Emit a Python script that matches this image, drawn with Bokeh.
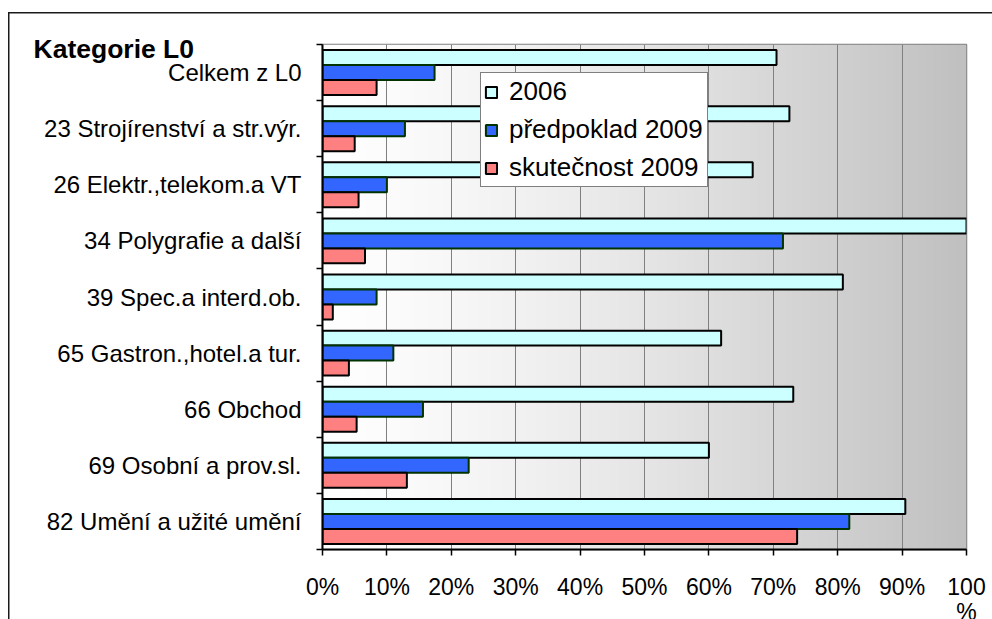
import numpy as np
from bokeh.plotting import figure
from bokeh.models import Range1d, FixedTicker, Legend, LegendItem, Label
from bokeh.embed import file_html
from bokeh.resources import INLINE

# ---- data ----
categories = ["Celkem z L0", "23 Strojírenství a str.výr.", "26 Elektr.,telekom.a VT",
              "34 Polygrafie a další", "39 Spec.a interd.ob.", "65 Gastron.,hotel.a tur.",
              "66 Obchod", "69 Osobní a prov.sl.", "82 Umění a užité umění"]
series_names = ["2006", "předpoklad 2009", "skutečnost 2009"]
v2006 = [70.5, 72.5, 66.8, 100.0, 80.8, 61.9, 73.1, 60.0, 90.5]
pred2009 = [17.4, 12.8, 10.0, 71.5, 8.4, 11.0, 15.6, 22.7, 81.8]
skut2009 = [8.4, 5.0, 5.6, 6.6, 1.6, 4.1, 5.3, 13.1, 73.7]
x_ticks = [0, 10, 20, 30, 40, 50, 60, 70, 80, 90, 100]
x_tick_labels = ["0%", "10%", "20%", "30%", "40%", "50%", "60%", "70%", "80%", "90%", "100"]
x_last_suffix = "%"
title_text = "Kategorie L0"

FONT = "Liberation Sans"
n = len(categories)
centers = [n - i - 0.5 for i in range(n)]
boundaries = [float(i) for i in range(n + 1)]

# layout (pixels)
W, H = 992, 619
FL, FT, FW, FH = 322, 44, 644, 505   # frame left/top/width/height inside canvas
XMAX = 100.0


def px_x(dx):   # horizontal pixel offset from frame left -> data x
    return dx * XMAX / FW


def px_y(dy):   # vertical pixel offset below frame top -> data y
    return n - dy * n / FH


p = figure(width=W, height=H, output_backend="svg", toolbar_location=None,
           x_range=Range1d(0, XMAX), y_range=Range1d(0, n),
           min_border_left=FL, min_border_right=W - FL - FW,
           min_border_top=FT, min_border_bottom=H - FT - FH)
p.background_fill_color = "white"
p.border_fill_color = "white"
p.border_fill_alpha = 0.0
p.outline_line_color = "#808080"
p.outline_line_width = 1.5
# outer chart frame: thin dark line on the left and top edge of the chart area
p.styles = {"background-color": "white",
            "box-shadow": "inset 8px 12px 0 0 #ffffff, inset 9.5px 13.5px 0 0 #1a1a1a"}

# gradient background
nx = 256
t = np.linspace(0, 1, nx)
g = np.clip(255 - 63 * t ** 1.3, 0, 255).astype(np.uint8)
img = np.empty((1, nx), dtype=np.uint32)
view = img.view(dtype=np.uint8).reshape((1, nx, 4))
view[..., 0] = g
view[..., 1] = g
view[..., 2] = g
view[..., 3] = 255
p.image_rgba(image=[img], x=0, y=0, dw=XMAX, dh=n, level="image")

# bars
bh = 0.267
fills = ["#CCFFFF", "#3366FF", "#FF8080"]
lines = ["#000000", "#003300", "#000000"]
offsets = [bh, 0.0, -bh]
renderers = []
for vals, fc, lc, off in zip([v2006, pred2009, skut2009], fills, lines, offsets):
    r = p.hbar(y=[c + off for c in centers], right=vals, left=0, height=bh,
               fill_color=fc, line_color=lc, line_width=2)
    renderers.append(r)

# grid
p.xgrid.ticker = FixedTicker(ticks=x_ticks)
p.xgrid.grid_line_color = "#808080"
p.xgrid.grid_line_width = 1
p.ygrid.visible = False

# x axis
xa = p.xaxis[0]
xa.ticker = FixedTicker(ticks=x_ticks)
xa.major_label_overrides = {tk: lb for tk, lb in zip(x_ticks, x_tick_labels)}
xa.major_label_text_font = FONT
xa.major_label_text_font_size = "23px"
xa.major_label_text_color = "black"
xa.major_label_standoff = 18
xa.major_tick_out = 6
xa.major_tick_in = 0
xa.major_tick_line_color = "black"
xa.major_tick_line_width = 1.5
xa.minor_tick_line_color = None
xa.axis_line_color = "black"
xa.axis_line_width = 2

# y axis
ya = p.yaxis[0]
ya.ticker = FixedTicker(ticks=centers, minor_ticks=boundaries)
ya.major_label_overrides = {c: lb for c, lb in zip(centers, categories)}
ya.major_label_text_font = FONT
ya.major_label_text_font_size = "24px"
ya.major_label_text_color = "black"
ya.major_label_standoff = 15
ya.major_tick_out = 0
ya.major_tick_in = 0
ya.minor_tick_out = 6
ya.minor_tick_in = 0
ya.minor_tick_line_color = "black"
ya.minor_tick_line_width = 1.5
ya.axis_line_color = "black"
ya.axis_line_width = 2

# legend
legend = Legend(items=[LegendItem(label=nm, renderers=[r]) for nm, r in zip(series_names, renderers)],
                location=(158, 362), margin=0, padding=3, spacing=7,
                glyph_width=14, glyph_height=14, label_standoff=11, label_width=195,
                label_text_font=FONT, label_text_font_size="26px", label_text_color="black",
                border_line_color="black", border_line_width=1, background_fill_color="white",
                background_fill_alpha=1.0)
p.add_layout(legend)

# title (side-panel annotation, positioned through the plot's scales)
p.add_layout(Label(x=px_x(33 - FL), y=px_y(4), text=title_text,
                   text_font=FONT, text_font_size="26.5px", text_font_style="bold",
                   text_color="black", text_align="left", text_baseline="alphabetic"), "above")

# wrapped "%" of the last tick label
p.add_layout(Label(x=x_ticks[-1], y=px_y(FH + 62), text=x_last_suffix,
                   text_font=FONT, text_font_size="23px", text_color="black",
                   text_align="center", text_baseline="alphabetic"), "right")

open("out.html", "w").write(file_html(p, INLINE))
